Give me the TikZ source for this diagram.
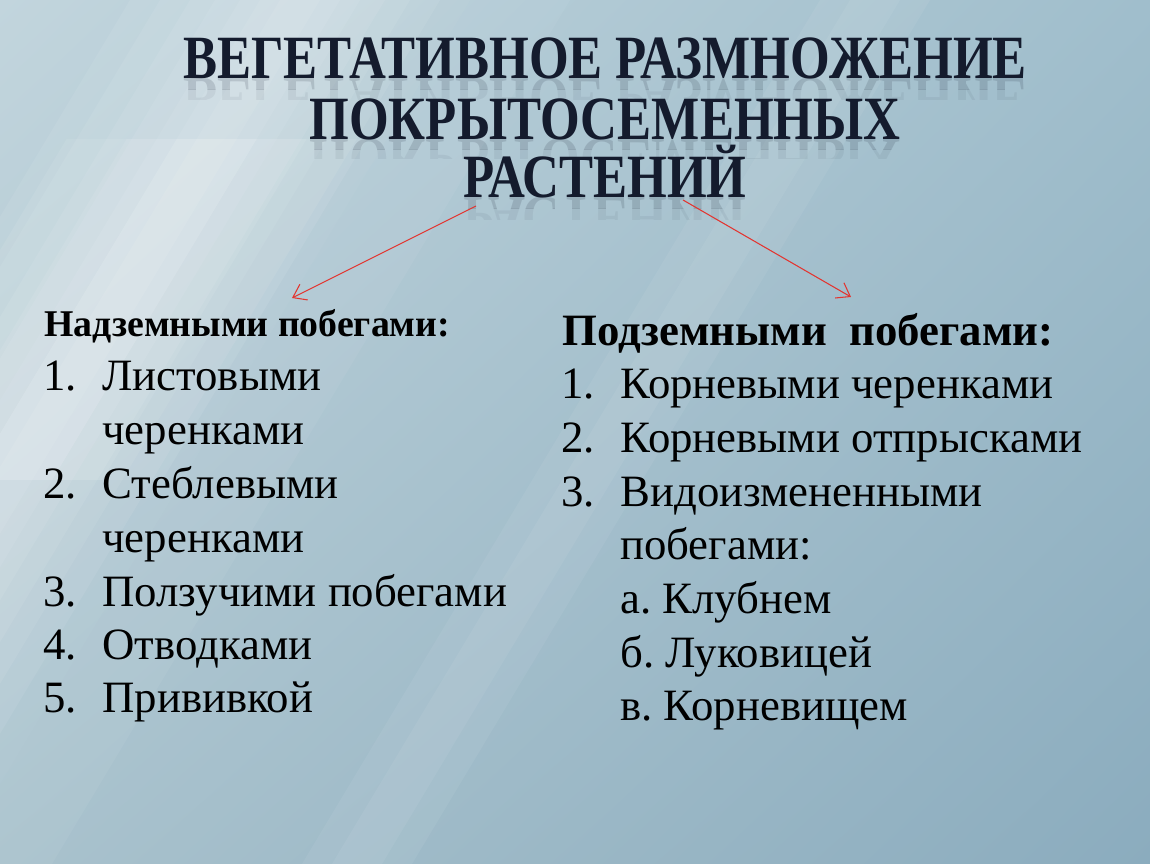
\documentclass[tikz,border=0pt]{standalone}
\usepackage{fontspec}
\setmainfont{Liberation Serif}
\newfontfamily\titlefont{Liberation Serif}[FakeStretch=0.83]
\usetikzlibrary{arrows.meta,shadings}
\frenchspacing

\definecolor{titlecol}{HTML}{141B2D}
\definecolor{arrowred}{HTML}{E3342F}
\definecolor{bgUL}{HTML}{C2D5DD}
\definecolor{bgUR}{HTML}{A0BECC}
\definecolor{bgLL}{HTML}{A9C2CD}
\definecolor{bgLR}{HTML}{8BACBE}

\tikzset{
  titletext/.style={font=\titlefont\bfseries\fontsize{35}{40}\selectfont, text=titlecol, anchor=base, inner sep=0pt},
  mirrortext/.style={titletext, text opacity=0.14},
  fainttext/.style={titletext, text opacity=0.06},
  headtext/.style={font=\bfseries\fontsize{21.5}{24}\selectfont, anchor=base west, inner sep=0pt},
  bighead/.style={font=\bfseries\fontsize{25.5}{30}\selectfont, anchor=base west, inner sep=0pt},
  itemtext/.style={font=\fontsize{25.5}{30}\selectfont, anchor=base west, inner sep=0pt},
  streak/.style={fill=white, fill opacity=#1},
  redarrow/.style={draw=arrowred, line width=0.6pt, -{Straight Barb[length=7pt,width=10pt]}},
}

\begin{document}
\begin{tikzpicture}[x=0.02cm, y=-0.02cm]

\useasboundingbox (0,0) rectangle (1150,864);

	%%% background
    \shade[upper left=bgUL, upper right=bgUR, lower left=bgLL, lower right=bgLR] (0,0) rectangle (1150,864);
    \begin{scope}
    \clip (0,0) rectangle (1150,864);
    % big light streak
    \fill[streak=0.07] (130,0) -- (470,0) -- (-48,864) -- (-388,864) -- cycle;
    \fill[streak=0.07] (160,0) -- (440,0) -- (-78,864) -- (-358,864) -- cycle;
    \fill[streak=0.07] (190,0) -- (410,0) -- (-108,864) -- (-328,864) -- cycle;
    \fill[streak=0.07] (215,0) -- (385,0) -- (-133,864) -- (-303,864) -- cycle;
    \fill[streak=0.07] (240,0) -- (360,0) -- (-158,864) -- (-278,864) -- cycle;
    \fill[streak=0.07] (260,0) -- (340,0) -- (-178,864) -- (-258,864) -- cycle;
    \fill[streak=0.07] (280,0) -- (320,0) -- (-198,864) -- (-238,864) -- cycle;
    % brighter part on the left
    \begin{scope}
    \clip (0,140) rectangle (400,480);
    \fill[streak=0.08] (150,0) -- (450,0) -- (-68,864) -- (-368,864) -- cycle;
    \fill[streak=0.08] (210,0) -- (390,0) -- (-128,864) -- (-308,864) -- cycle;
    \fill[streak=0.08] (260,0) -- (340,0) -- (-178,864) -- (-258,864) -- cycle;
    \end{scope}
    % faint streaks
    \fill[streak=0.05] (470,0) -- (570,0) -- (52,864) -- (-48,864) -- cycle;
    \fill[streak=0.06] (820,0) -- (930,0) -- (412,864) -- (302,864) -- cycle;
    \fill[streak=0.06] (850,0) -- (900,0) -- (382,864) -- (332,864) -- cycle;
    \end{scope}

	%%% title
    \node[titletext] (title1) at (605,79) {ВЕГЕТАТИВНОЕ РАЗМНОЖЕНИЕ};
    \node[titletext] (title2) at (605,140) {ПОКРЫТОСЕМЕННЫХ};
    \node[titletext] (title3) at (605,198) {РАСТЕНИЙ};

    % reflections
    \begin{scope}
    \clip (150,79) rectangle (1060,90);
    \node[mirrortext] (mirror1) at (605,79) {\scalebox{1}[-1]{ВЕГЕТАТИВНОЕ РАЗМНОЖЕНИЕ}};
    \end{scope}
    \begin{scope}
    \clip (150,90) rectangle (1060,100);
    \node[fainttext] (faint1) at (605,79) {\scalebox{1}[-1]{ВЕГЕТАТИВНОЕ РАЗМНОЖЕНИЕ}};
    \end{scope}
    \begin{scope}
    \clip (150,140) rectangle (1060,150);
    \node[mirrortext] (mirror2) at (605,140) {\scalebox{1}[-1]{ПОКРЫТОСЕМЕННЫХ}};
    \end{scope}
    \begin{scope}
    \clip (150,150) rectangle (1060,159);
    \node[fainttext] (faint2) at (605,140) {\scalebox{1}[-1]{ПОКРЫТОСЕМЕННЫХ}};
    \end{scope}
    \begin{scope}
    \clip (150,198) rectangle (1060,209);
    \node[mirrortext] (mirror3) at (605,198) {\scalebox{1}[-1]{РАСТЕНИЙ}};
    \end{scope}
    \begin{scope}
    \clip (150,209) rectangle (1060,220);
    \node[fainttext] (faint3) at (605,198) {\scalebox{1}[-1]{РАСТЕНИЙ}};
    \end{scope}

	%%% arrows
    \coordinate (A1) at (476,206);
    \coordinate (A2) at (292,298);
    \coordinate (B1) at (683,200);
    \coordinate (B2) at (851,297);

    \draw[redarrow] (A1) -- (A2);
    \draw[redarrow] (B1) -- (B2);

	%%% left column
    \node[headtext] (LH) at (44,337) {Надземными побегами:};

    \node[itemtext] (LN1) at (43,391) {1.};
    \node[itemtext] (LT1) at (102,391) {Листовыми};
    \node[itemtext] (LT1b) at (102,445) {черенками};
    \node[itemtext] (LN2) at (43,499) {2.};
    \node[itemtext] (LT2) at (102,499) {Стеблевыми};
    \node[itemtext] (LT2b) at (102,553) {черенками};
    \node[itemtext] (LN3) at (43,607) {3.};
    \node[itemtext] (LT3) at (102,607) {Ползучими побегами};
    \node[itemtext] (LN4) at (43,660) {4.};
    \node[itemtext] (LT4) at (102,660) {Отводками};
    \node[itemtext] (LN5) at (43,713) {5.};
    \node[itemtext] (LT5) at (102,713) {Прививкой};

	%%% right column
    \node[bighead] (RH) at (562,346) {Подземными~~побегами:};

    \node[itemtext] (RN1) at (561,399) {1.};
    \node[itemtext] (RT1) at (620,399) {Корневыми черенками};
    \node[itemtext] (RN2) at (561,453) {2.};
    \node[itemtext] (RT2) at (620,453) {Корневыми отпрысками};
    \node[itemtext] (RN3) at (561,507) {3.};
    \node[itemtext] (RT3) at (620,507) {Видоизмененными};
    \node[itemtext] (RT3b) at (620,560) {побегами:};
    \node[itemtext] (RTa) at (620,614) {а. Клубнем};
    \node[itemtext] (RTb) at (620,668) {б. Луковицей};
    \node[itemtext] (RTc) at (620,721) {в. Корневищем};

\end{tikzpicture}
\end{document}
